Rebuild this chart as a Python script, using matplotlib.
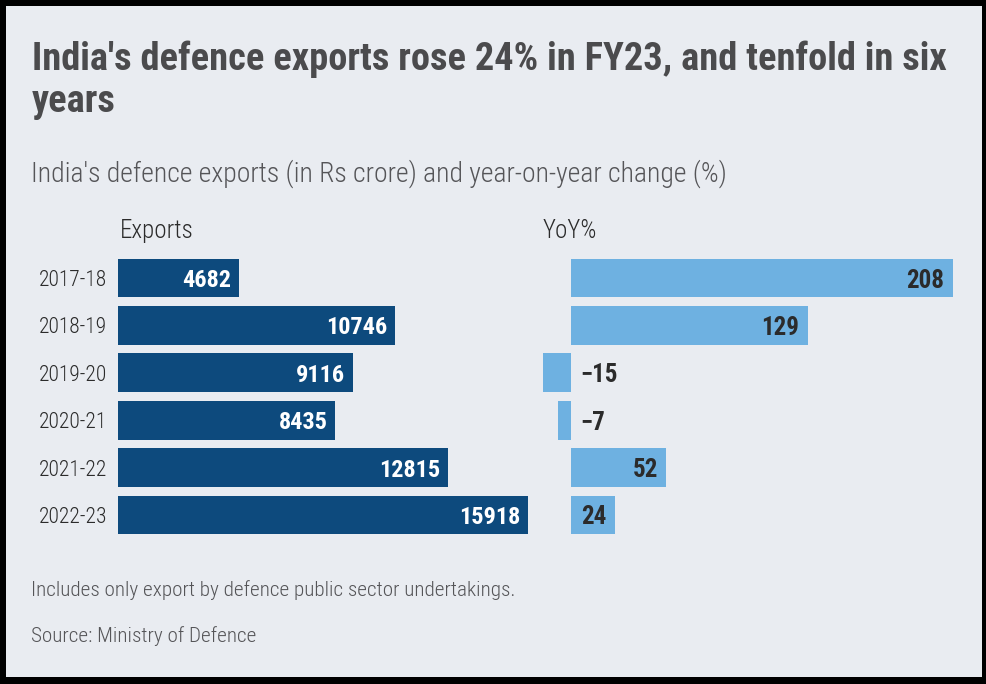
import matplotlib
matplotlib.use("Agg")
import matplotlib.pyplot as plt
from matplotlib import font_manager
from matplotlib.patches import Rectangle

# Data
YEARS = ["2017-18", "2018-19", "2019-20", "2020-21", "2021-22", "2022-23"]
EXPORTS = [4682, 10746, 9116, 8435, 12815, 15918]  # Rs crore
YOY = [208, 129, -15, -7, 52, 24]  # %

TITLE = "India's defence exports rose 24% in FY23, and tenfold in six\nyears"
SUBTITLE = "India's defence exports (in Rs crore) and year-on-year change (%)"
NOTE = "Includes only export by defence public sector undertakings."
SOURCE = "Source: Ministry of Defence"

# Colours
BG = "#e9ecf1"
DARK_BAR = "#0d4a7d"
LIGHT_BAR = "#6eb1e1"
TITLE_COL = "#4b4b4d"
TEXT_COL = "#555558"
LABEL_COL = "#2b2b2b"

W, H = 986, 684

# pick a narrow font if there is one
names = {f.name for f in font_manager.fontManager.ttflist}
FONT = next((n for n in ["Roboto Condensed", "Liberation Sans Narrow", "Open Sans"] if n in names), "DejaVu Sans")
plt.rcParams["font.family"] = [FONT, "DejaVu Sans"]


def fx(px):
    return px / W


def fy(py):
    return 1 - py / H


fig = plt.figure(figsize=(W / 100, H / 100), dpi=100)
fig.patch.set_facecolor("black")
# light panel inside the black frame
fig.patches.append(Rectangle((fx(6), fy(677)), fx(982) - fx(6), fy(6) - fy(677),
                             transform=fig.transFigure, facecolor=BG, edgecolor="none", zorder=-5))

fig.text(fx(32), fy(41), TITLE, fontsize=27.6, fontweight="bold", color=TITLE_COL,
         va="top", ha="left", linespacing=1.15)
fig.text(fx(31), fy(182), SUBTITLE, fontsize=20, fontweight="light", color=TEXT_COL, va="baseline")
fig.text(fx(120), fy(238), "Exports", fontsize=18, fontweight="light", color=LABEL_COL, va="baseline")
fig.text(fx(543), fy(238), "YoY%", fontsize=18, fontweight="light", color=LABEL_COL, va="baseline")
fig.text(fx(31), fy(596), NOTE, fontsize=15.2, fontweight="light", color=TEXT_COL, va="baseline")
fig.text(fx(31), fy(642), SOURCE, fontsize=15.2, fontweight="light", color=TEXT_COL, va="baseline")

# row geometry: centres 278 .. 515 px
row_top = 278 - 23.7
row_bot = 515 + 23.7
ys = list(range(len(YEARS)))

# exports axis: 0 at x=118, 15918 at x=528
ax1 = fig.add_axes([fx(118), fy(row_bot), fx(528) - fx(118), fy(row_top) - fy(row_bot)])
ax1.barh(ys, EXPORTS, height=0.82, color=DARK_BAR)
ax1.set_xlim(0, max(EXPORTS))
ax1.set_ylim(len(YEARS) - 0.5, -0.5)
for y, v in zip(ys, EXPORTS):
    ax1.text(v - max(EXPORTS) * 0.019, y, str(v), ha="right", va="center_baseline",
             color="white", fontsize=17.5, fontweight="bold")
ax1.set_yticks(ys)
ax1.set_yticklabels(YEARS, fontsize=15.5, fontweight="light", color=LABEL_COL)
ax1.tick_params(axis="y", length=0, pad=8)
ax1.set_xticks([])

# yoy axis: 0 at x=571, 208 at x=952.7
px_per = (952.7 - 571) / 208
lo, hi = -20, 210
ax2 = fig.add_axes([fx(571 + lo * px_per), fy(row_bot), fx((hi - lo) * px_per), fy(row_top) - fy(row_bot)])
ax2.barh(ys, YOY, height=0.82, color=LIGHT_BAR)
ax2.set_xlim(lo, hi)
ax2.set_ylim(len(YEARS) - 0.5, -0.5)
for y, v in zip(ys, YOY):
    lab = str(v).replace("-", "\u2212")
    if v >= 0:
        ax2.text(v - 4.7, y, lab, ha="right", va="center_baseline", color=LABEL_COL,
                 fontsize=18, fontweight="bold")
    else:
        ax2.text(5, y, lab, ha="left", va="center_baseline", color=LABEL_COL,
                 fontsize=18, fontweight="bold")
ax2.set_xticks([])
ax2.set_yticks([])

for ax in (ax1, ax2):
    ax.patch.set_visible(False)
    for s in ax.spines.values():
        s.set_visible(False)

fig.savefig("out.png", dpi=100, facecolor=fig.get_facecolor())
